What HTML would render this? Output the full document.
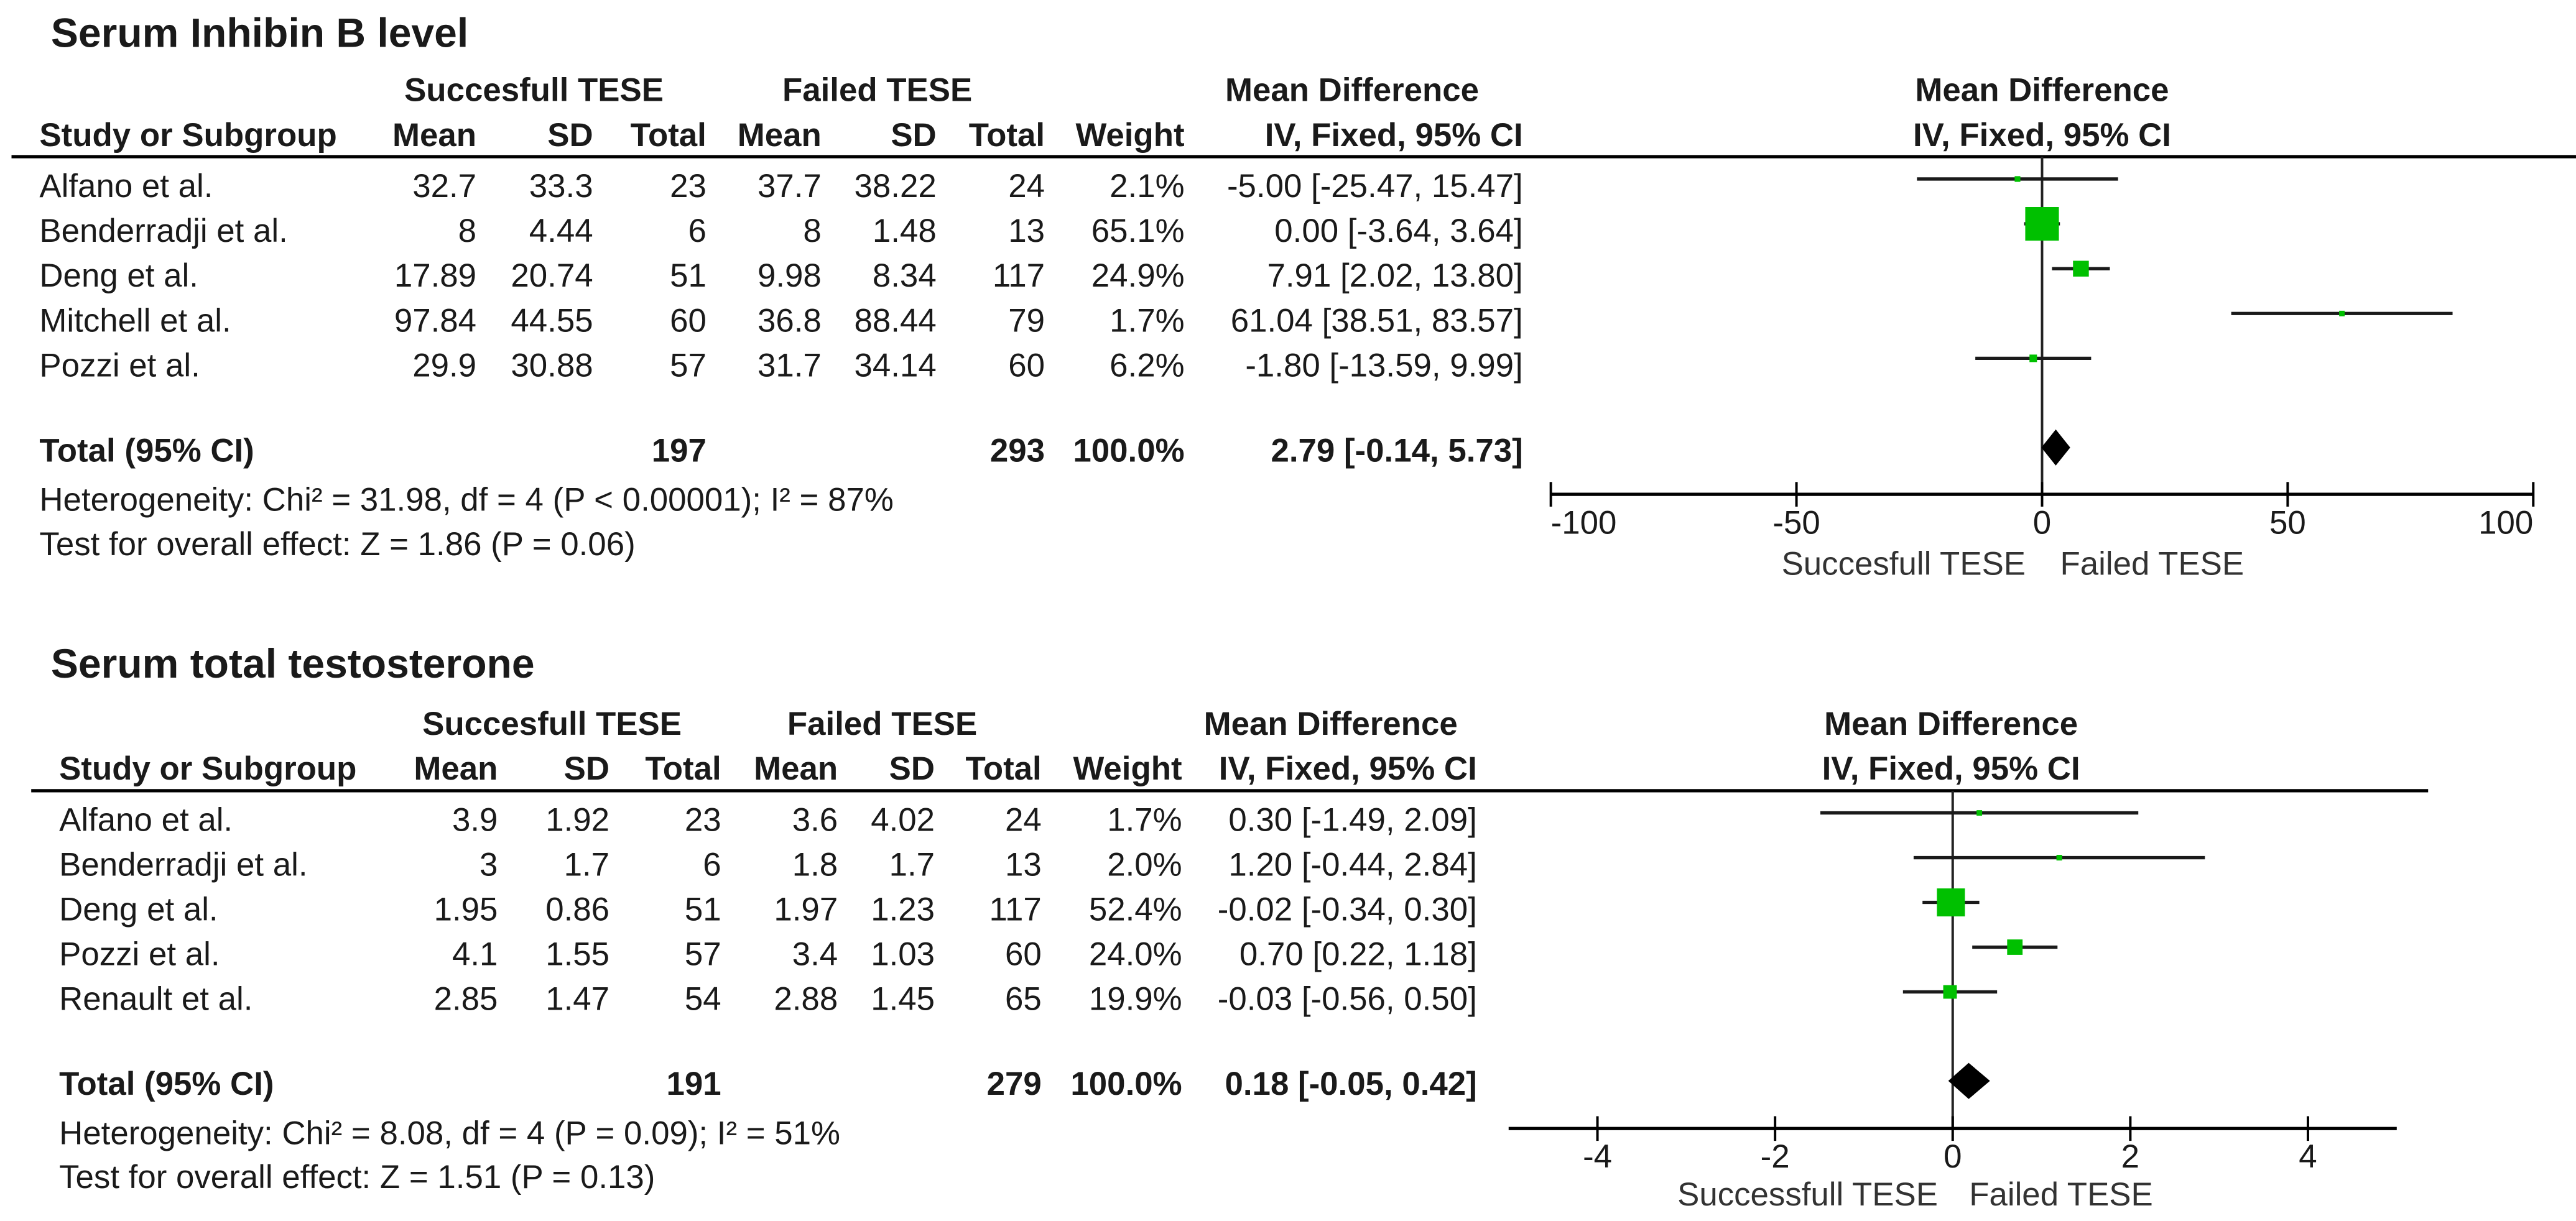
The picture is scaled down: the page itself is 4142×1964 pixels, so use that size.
<!DOCTYPE html>
<html><head><meta charset="utf-8">
<style>
html,body{margin:0;padding:0;background:#fff;}
svg{display:block;}
text{font-family:"Liberation Sans",Arial,sans-serif;fill:#1a1a1a;}
.b{font-weight:bold;}
</style></head>
<body>
<svg id="chart" width="4142" height="1964" viewBox="0 0 1568 743.5" xmlns="http://www.w3.org/2000/svg"></svg>
<script>
// ---- Panel 1: Serum Inhibin B level ----
const p1Studies = ["Alfano et al.", "Benderradji et al.", "Deng et al.", "Mitchell et al.", "Pozzi et al."];
const p1Mean1 = ["32.7", "8", "17.89", "97.84", "29.9"];
const p1Sd1 = ["33.3", "4.44", "20.74", "44.55", "30.88"];
const p1N1 = ["23", "6", "51", "60", "57"];
const p1Mean2 = ["37.7", "8", "9.98", "36.8", "31.7"];
const p1Sd2 = ["38.22", "1.48", "8.34", "88.44", "34.14"];
const p1N2 = ["24", "13", "117", "79", "60"];
const p1Weight = [2.1, 65.1, 24.9, 1.7, 6.2];
const p1Md = [-5.00, 0.00, 7.91, 61.04, -1.80];
const p1Lo = [-25.47, -3.64, 2.02, 38.51, -13.59];
const p1Hi = [15.47, 3.64, 13.80, 83.57, 9.99];
const p1Total = {n1: "197", n2: "293", md: 2.79, lo: -0.14, hi: 5.73};
const p1Ticks = [-100, -50, 0, 50, 100];
const p1Het = "Heterogeneity: Chi² = 31.98, df = 4 (P < 0.00001); I² = 87%";
const p1Test = "Test for overall effect: Z = 1.86 (P = 0.06)";

// ---- Panel 2: Serum total testosterone ----
const p2Studies = ["Alfano et al.", "Benderradji et al.", "Deng et al.", "Pozzi et al.", "Renault et al."];
const p2Mean1 = ["3.9", "3", "1.95", "4.1", "2.85"];
const p2Sd1 = ["1.92", "1.7", "0.86", "1.55", "1.47"];
const p2N1 = ["23", "6", "51", "57", "54"];
const p2Mean2 = ["3.6", "1.8", "1.97", "3.4", "2.88"];
const p2Sd2 = ["4.02", "1.7", "1.23", "1.03", "1.45"];
const p2N2 = ["24", "13", "117", "60", "65"];
const p2Weight = [1.7, 2.0, 52.4, 24.0, 19.9];
const p2Md = [0.30, 1.20, -0.02, 0.70, -0.03];
const p2Lo = [-1.49, -0.44, -0.34, 0.22, -0.56];
const p2Hi = [2.09, 2.84, 0.30, 1.18, 0.50];
const p2Total = {n1: "191", n2: "279", md: 0.18, lo: -0.05, hi: 0.42};
const p2Ticks = [-4, -2, 0, 2, 4];
const p2Het = "Heterogeneity: Chi² = 8.08, df = 4 (P = 0.09); I² = 51%";
const p2Test = "Test for overall effect: Z = 1.51 (P = 0.13)";

const NS = "http://www.w3.org/2000/svg";
const svg = document.getElementById("chart");
function mk(tag, attrs, parent) {
  const e = document.createElementNS(NS, tag);
  for (const k in attrs) e.setAttribute(k, attrs[k]);
  (parent || svg).appendChild(e);
  return e;
}
function txt(str, x, y, anchor, cls, name, parent, fill) {
  const t = mk("text", {x: x, y: y, "text-anchor": anchor || "start", "font-size": 20}, parent);
  if (cls) t.setAttribute("class", cls);
  if (fill) t.style.fill = fill;
  t.textContent = str;
  
  
  return t;
}
function fmt(v) { return v.toFixed(2); }
function ciStr(m, l, h) { return fmt(m) + " [" + fmt(l) + ", " + fmt(h) + "]"; }

function panel(cfg, d) {
  const g = mk("g", {});
  
  
  const xs = v => cfg.zero + v * cfg.scale;
  const t = txt(cfg.title, 31, cfg.titleY, "start", "b", "panel-title", g);
  t.setAttribute("font-size", 25);
  txt("Succesfull TESE", cfg.grp[0], cfg.h1Y, "middle", "b", "successful-group-header", g);
  txt("Failed TESE", cfg.grp[1], cfg.h1Y, "middle", "b", "failed-group-header", g);
  txt("Mean Difference", cfg.grp[2], cfg.h1Y, "middle", "b", "mean-difference-header", g);
  txt("Mean Difference", cfg.zero + cfg.hdrOff, cfg.h1Y, "middle", "b", "plot-mean-difference-header", g);
  txt("IV, Fixed, 95% CI", cfg.zero + cfg.hdrOff, cfg.h2Y, "middle", "b", "plot-method-header", g);
  txt("Study or Subgroup", cfg.sx, cfg.h2Y, "start", "b", "study-column-header", g);
  const heads = ["Mean", "SD", "Total", "Mean", "SD", "Total", "Weight", "IV, Fixed, 95% CI"];
  const hnames = ["mean-1-header","sd-1-header","total-1-header","mean-2-header","sd-2-header","total-2-header","weight-header","ci-header"];
  heads.forEach((h, i) => txt(h, cfg.cols[i], cfg.h2Y, "end", "b", hnames[i], g));
  const hl = mk("line", {x1: cfg.lx1, x2: cfg.lx2, y1: cfg.lineY, y2: cfg.lineY, stroke: "#000", "stroke-width": 2}, g);
  
  
  // zero line
  const zl = mk("line", {x1: xs(0), x2: xs(0), y1: cfg.lineY, y2: cfg.axisY, stroke: "#222", "stroke-width": 1.5}, g);
  
  

  d.studies.forEach((s, i) => {
    const y = cfg.row0 + i * cfg.pitch;
    const rg = mk("g", {}, g);
    
    
    txt(s, cfg.sx, y, "start", "", "study-name", rg);
    const vals = [d.m1[i], d.s1[i], d.n1[i], d.m2[i], d.s2[i], d.n2[i], d.w[i].toFixed(1) + "%", ciStr(d.md[i], d.lo[i], d.hi[i])];
    vals.forEach((v, j) => txt(v, cfg.cols[j], y, "end", "", hnames[j].replace("-header", "-value"), rg));
    const cy = y - 11;
    const ci = mk("line", {x1: xs(d.lo[i]), x2: xs(d.hi[i]), y1: cy, y2: cy, stroke: "#1a1a1a", "stroke-width": 2}, rg);
    
    
    const sz = 2.9 + 0.27 * d.w[i];
    const sq = mk("rect", {x: xs(d.md[i]) - sz / 2, y: cy - sz / 2, width: sz, height: sz, fill: "#00c000"}, rg);
    
    
  });
  // total row
  txt("Total (95% CI)", cfg.sx, cfg.totY, "start", "b", "total-label", g);
  txt(d.tot.n1, cfg.cols[2], cfg.totY, "end", "b", "total-n-successful", g);
  txt(d.tot.n2, cfg.cols[5], cfg.totY, "end", "b", "total-n-failed", g);
  txt("100.0%", cfg.cols[6], cfg.totY, "end", "b", "total-weight", g);
  txt(ciStr(d.tot.md, d.tot.lo, d.tot.hi), cfg.cols[7], cfg.totY, "end", "b", "total-ci", g);
  const dy = cfg.totY - 8.5;
  const dm = mk("polygon", {points: [xs(d.tot.lo) + "," + dy, xs(d.tot.md) + "," + (dy - 11), xs(d.tot.hi) + "," + dy, xs(d.tot.md) + "," + (dy + 11)].join(" "), fill: "#000"}, g);
  
  
  txt(d.het, cfg.sx, cfg.hetY, "start", "", "heterogeneity-text", g);
  txt(d.test, cfg.sx, cfg.testY, "start", "", "overall-effect-text", g);
  // axis
  const ax = mk("line", {x1: xs(cfg.axMin), x2: xs(cfg.axMax), y1: cfg.axisY, y2: cfg.axisY, stroke: "#000", "stroke-width": 2}, g);
  
  
  d.ticks.forEach((tv, i) => {
    const tk = mk("line", {x1: xs(tv), x2: xs(tv), y1: cfg.axisY - 7.5, y2: cfg.axisY + 7.5, stroke: "#000", "stroke-width": 1.5}, g);
    
    
    let anc = "middle";
    if (tv === cfg.axMin) anc = "start";
    if (tv === cfg.axMax) anc = "end";
    txt(String(tv), xs(tv), cfg.tlY, anc, "", "x-tick-label", g);
  });
  txt(cfg.leftLab, xs(0) - cfg.labGap, cfg.subY, "end", "", "favours-successful-label", g, "#333");
  txt("Failed TESE", xs(0) + cfg.labGap + 1, cfg.subY, "start", "", "favours-failed-label", g, "#333");
}

panel({name: "inhibin-b-panel", title: "Serum Inhibin B level", titleY: 28.5, h1Y: 61.6, h2Y: 89, lineY: 95.4,
  lx1: 7, lx2: 1568, sx: 24, row0: 120, pitch: 27.3, totY: 281, hetY: 311, testY: 338,
  cols: [290, 361, 430, 500, 570, 636, 721, 927], grp: [325, 534, 823],
  zero: 1243, scale: 2.99, hdrOff: 0, axisY: 301, axMin: -100, axMax: 100, tlY: 325, subY: 350,
  labGap: 10, leftLab: "Succesfull TESE"},
  {studies: p1Studies, m1: p1Mean1, s1: p1Sd1, n1: p1N1, m2: p1Mean2, s2: p1Sd2, n2: p1N2,
   w: p1Weight, md: p1Md, lo: p1Lo, hi: p1Hi, tot: p1Total, ticks: p1Ticks, het: p1Het, test: p1Test});

panel({name: "testosterone-panel", title: "Serum total testosterone", titleY: 412.7, h1Y: 447.5, h2Y: 474.7, lineY: 481.5,
  lx1: 19, lx2: 1478, sx: 36, row0: 506, pitch: 27.25, totY: 666.7, hetY: 696.8, testY: 723.5,
  cols: [303, 371, 439, 510, 569, 634, 719.5, 899], grp: [336, 537, 810],
  zero: 1188.6, scale: 54.06, hdrOff: -1, axisY: 687.2, axMin: -5, axMax: 5, tlY: 711, subY: 734,
  labGap: 9, leftLab: "Successfull TESE"},
  {studies: p2Studies, m1: p2Mean1, s1: p2Sd1, n1: p2N1, m2: p2Mean2, s2: p2Sd2, n2: p2N2,
   w: p2Weight, md: p2Md, lo: p2Lo, hi: p2Hi, tot: p2Total, ticks: p2Ticks, het: p2Het, test: p2Test});
</script>
</body></html>
